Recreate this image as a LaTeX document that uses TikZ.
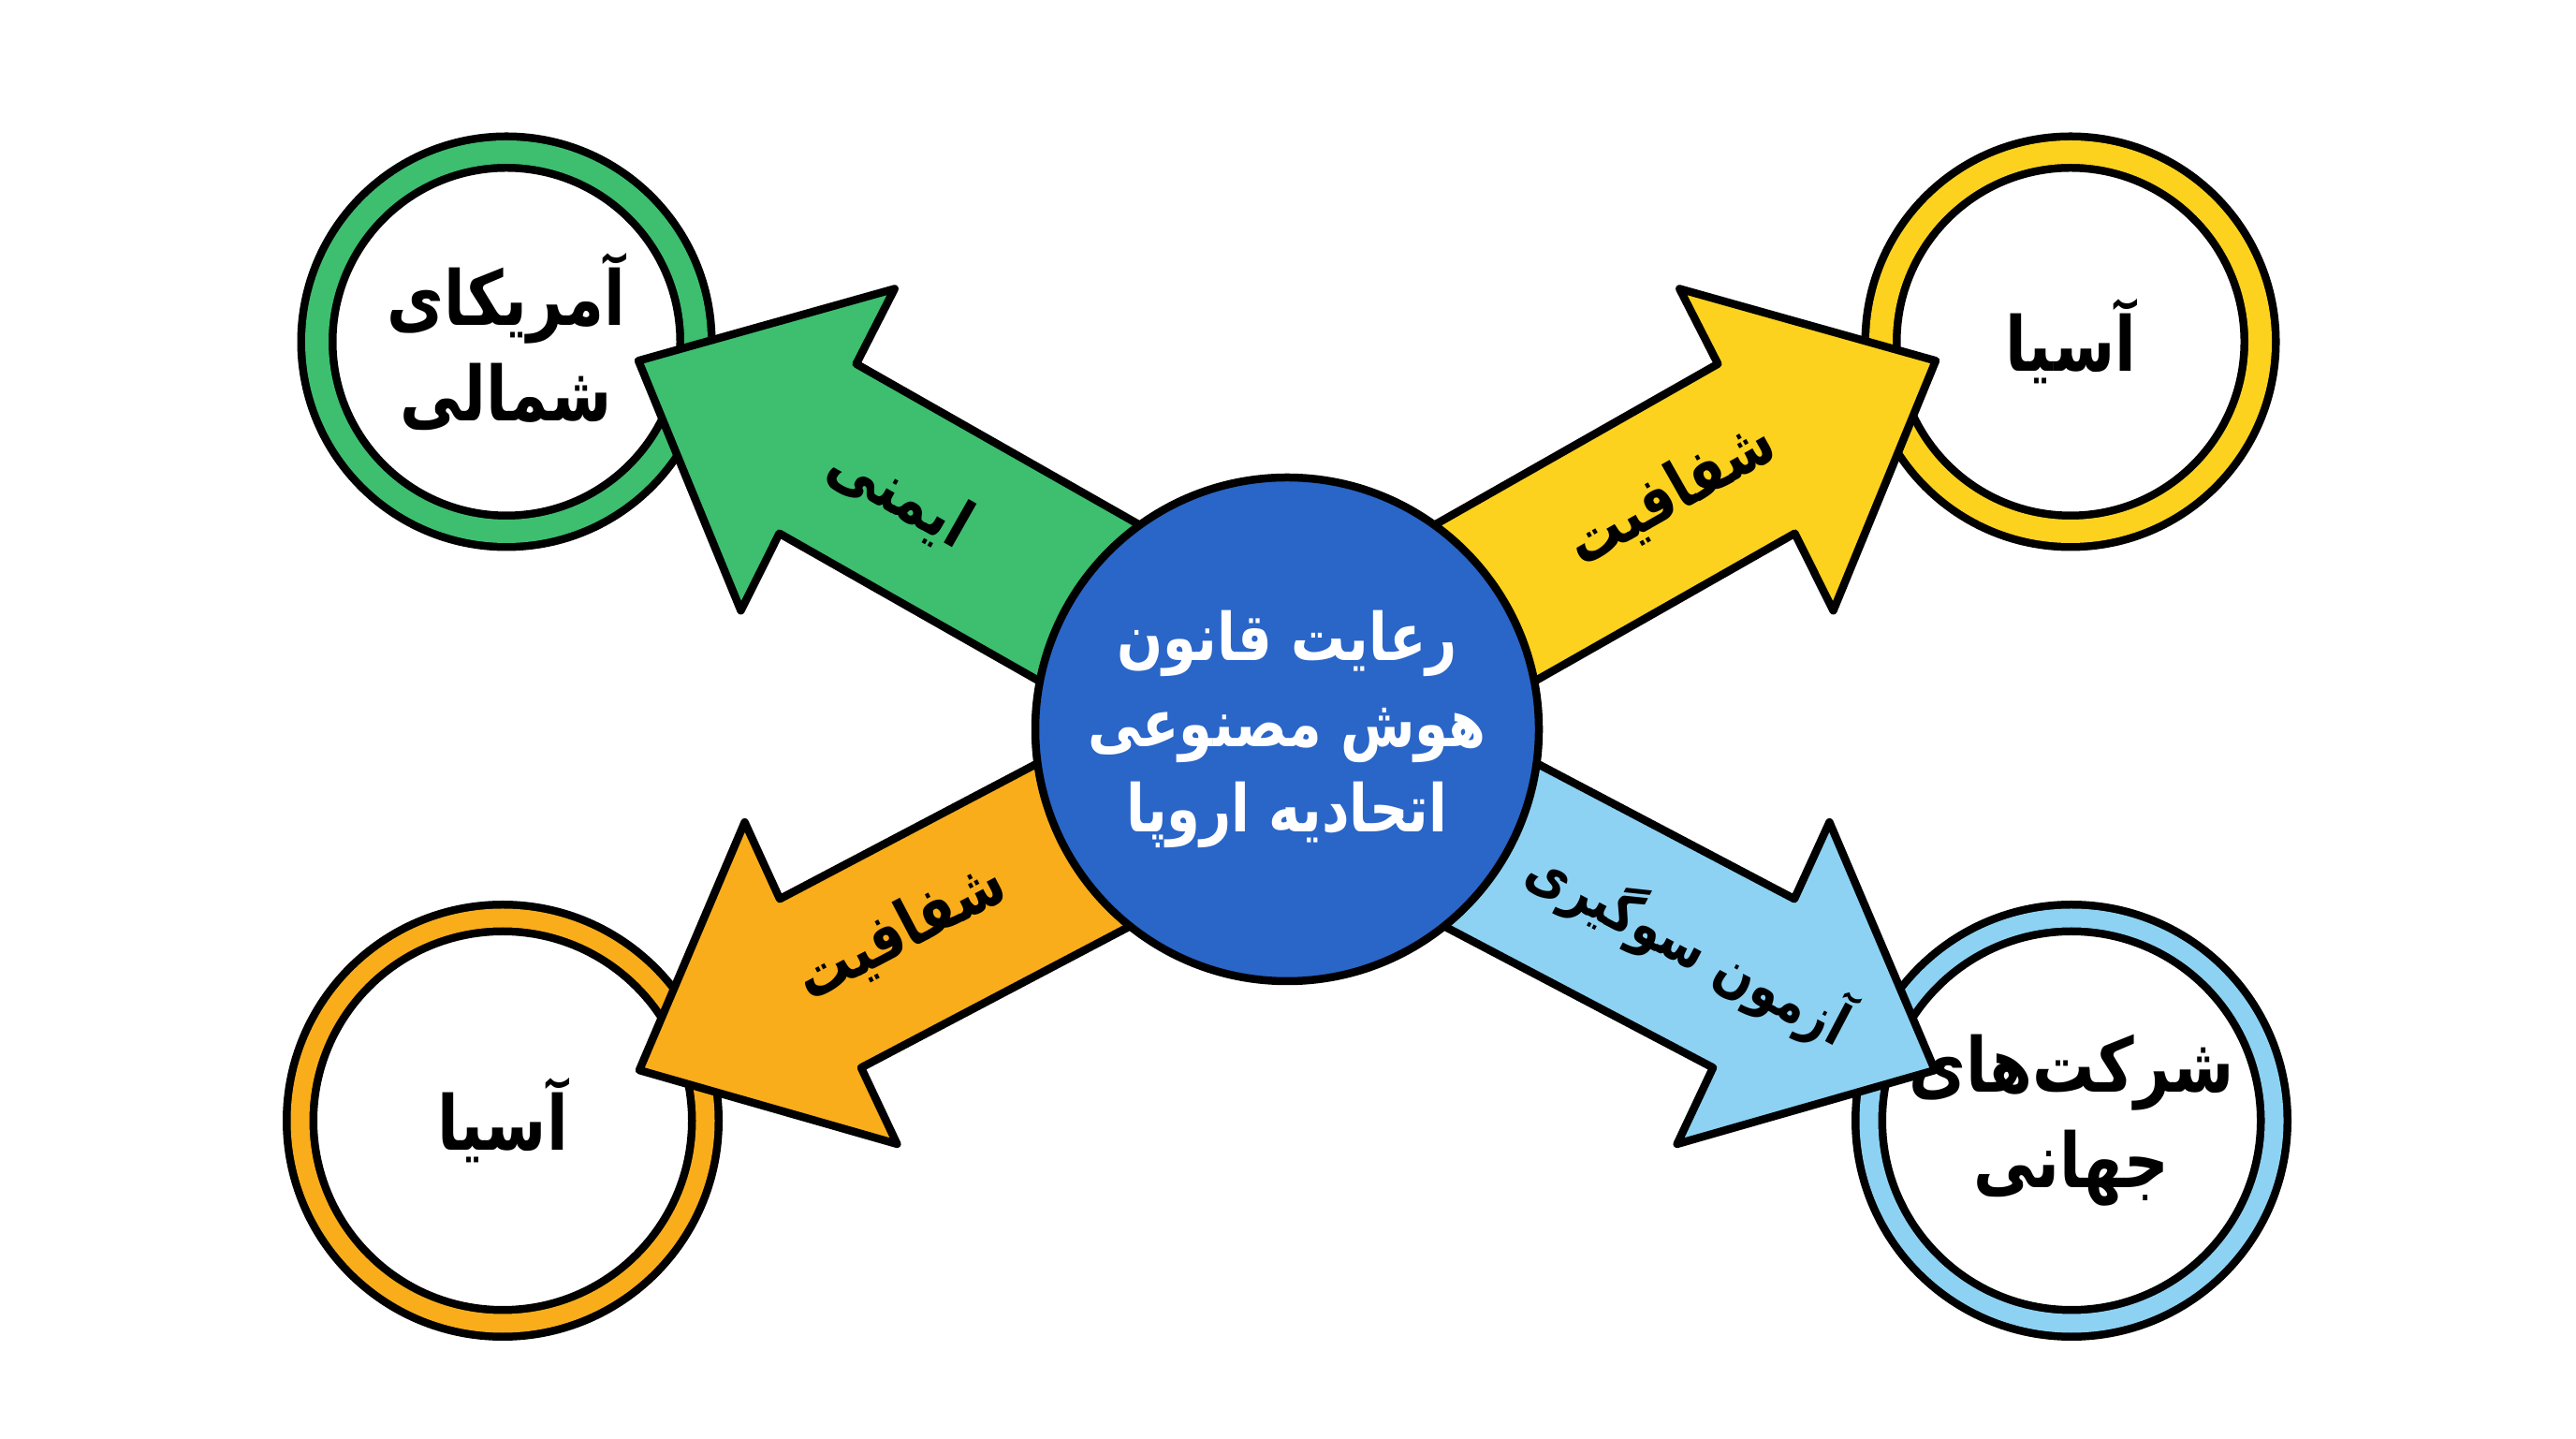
\documentclass[tikz,border=0pt]{standalone}
\usepackage{fontspec}
\usepackage[dvipsnames]{xcolor}
\usepackage{tikz}
\newfontfamily\farsi[Script=Arabic, FakeStretch=0.82]{DejaVu Sans}
\TeXXeTstate=1
\definecolor{euBlue}{HTML}{2A65C8}
\definecolor{naGreen}{HTML}{3EBE6F}
\definecolor{asYellow}{HTML}{FCD21F}
\definecolor{asOrange}{HTML}{F9AD1B}
\definecolor{gcBlue}{HTML}{8DD2F3}

\begin{document}
\begin{tikzpicture}[
        ring/.style={circle, draw=black, line width=0.085cm, double=#1, fill=white, inner sep=0pt},
        arrowbody/.style={draw=black, line width=0.085cm, line join=round},
        fa/.style={font=\farsi\bfseries\fontsize{20}{26}\selectfont, align=center},
        faBig/.style={font=\farsi\bfseries\fontsize{23}{29}\selectfont, align=center}]
        \useasboundingbox (0,0) rectangle (27.52,15.36);
        \coordinate (EU) at (13.75,7.57);
        % the four regions
        \node[ring=naGreen, double distance=0.25cm, minimum size=4.05cm] (NA) at (5.41,11.71) {};
        \node[ring=asYellow, double distance=0.25cm, minimum size=4.05cm] (AS) at (22.12,11.71) {};
        \node[ring=asOrange, double distance=0.2cm, minimum size=4.33cm] (AS2) at (5.37,3.39) {};
        \node[ring=gcBlue, double distance=0.2cm, minimum size=4.33cm] (GC) at (22.13,3.39) {};
        % arrows out of the centre, labels along them
        \begin{scope}[shift={(EU)}, rotate=150.4]
            \draw[arrowbody, fill=naGreen] (0,-1.12) -- (5.93,-1.12) -- (5.97,-2.02) -- (7.97,0) -- (5.70,1.78) -- (5.75,.86) -- (0,.86) -- cycle;
            \node[fa, transform shape, rotate=180] (safety) at (4.83,-.13) {\beginR ایمنی\endR};
        \end{scope}
        \begin{scope}[shift={(EU)}, rotate=29.6]
            \draw[arrowbody, fill=asYellow] (0,-.86) -- (5.75,-.86) -- (5.70,-1.78) -- (7.97,0) -- (5.97,2.02) -- (5.93,1.12) -- (0,1.12) -- cycle;
            \node[fa, transform shape] (transpA) at (4.81,.15) {\beginR شفافیت\endR};
        \end{scope}
        \begin{scope}[shift={(EU)}, rotate=207.75]
            \draw[arrowbody, fill=asOrange] (0,-.92) -- (5.64,-.92) -- (5.59,-1.82) -- (7.82,0) -- (5.75,1.98) -- (5.71,1.08) -- (0,1.08) -- cycle;
            \node[fa, transform shape, rotate=180] (transpB) at (4.66,0) {\beginR شفافیت\endR};
        \end{scope}
        \begin{scope}[shift={(EU)}, rotate=-27.75]
            \draw[arrowbody, fill=gcBlue] (0,-1.08) -- (5.71,-1.08) -- (5.75,-1.98) -- (7.82,0) -- (5.59,1.82) -- (5.64,.92) -- (0,.92) -- cycle;
            \node[fa, font=\farsi\bfseries\fontsize{17.5}{22}\selectfont, transform shape] (biasTest) at (4.88,-.05) {\beginR آزمون سوگیری\endR};
        \end{scope}
        % centre
        \node[circle, draw=black, line width=0.085cm, fill=euBlue, minimum size=5.38cm, inner sep=0pt, fa, text=white] (EUlaw) at (EU)
            {\beginR رعایت قانون\endR\\\beginR هوش مصنوعی\endR\\\beginR اتحادیه اروپا\endR};
        % region names
        \node[faBig] (NAname) at (NA) {\beginR آمریکای\endR\\\beginR شمالی\endR};
        \node[faBig] (ASname) at (AS) {\beginR آسیا\endR};
        \node[faBig] (AS2name) at (AS2) {\beginR آسیا\endR};
        \node[faBig] (GCname) at (GC) {\beginR شرکت‌های\endR\\\beginR جهانی\endR};
\end{tikzpicture}
\end{document}
